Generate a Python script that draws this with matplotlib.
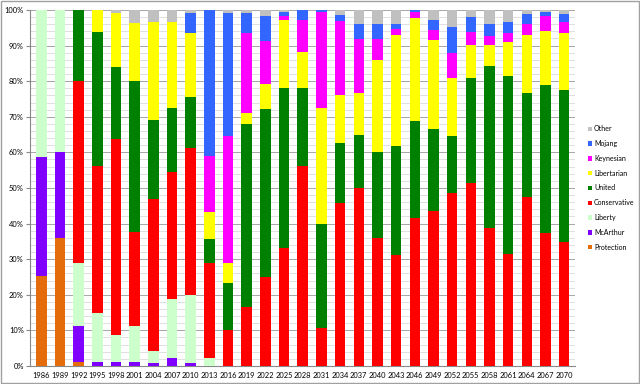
import numpy as np
import matplotlib.pyplot as plt
from matplotlib.patches import Rectangle
from matplotlib.ticker import MultipleLocator, PercentFormatter

plt.rcParams['font.family'] = ['Lato', 'DejaVu Sans']

years = [str(y) for y in range(1986, 2071, 3)]

# shares per party (percent), bottom to top
protection   = [25.3, 36.0, 1.1, 0, 0, 0, 0, 0, 0, 0, 0, 0, 0, 0, 0, 0, 0, 0, 0, 0, 0, 0, 0, 0, 0, 0, 0, 0, 0]
mcarthur     = [33.5, 24.0, 10.1, 1.2, 1.2, 1.2, 0.9, 2.2, 0.9, 0, 0, 0, 0, 0, 0, 0, 0, 0, 0, 0, 0, 0, 0, 0, 0, 0, 0, 0, 0]
liberty      = [41.2, 40.0, 17.6, 13.8, 7.6, 10.0, 3.3, 16.6, 19.1, 2.2, 0, 0, 0, 0, 0, 0, 0, 0, 0, 0, 0, 0, 0, 0, 0, 0, 0, 0, 0]
conservative = [0, 0, 51.3, 41.3, 55.0, 26.4, 42.6, 35.7, 41.3, 26.6, 10.0, 16.6, 25.0, 33.0, 56.1, 10.8,
                45.9, 50.1, 36.0, 31.1, 41.7, 43.6, 48.5, 51.5, 38.7, 31.4, 47.4, 37.4, 34.7]
united       = [0, 0, 19.9, 37.6, 20.1, 42.5, 22.3, 17.9, 14.3, 6.8, 13.2, 51.3, 47.2, 45.2, 22.1, 29.2,
                16.8, 14.9, 24.1, 30.7, 27.2, 22.9, 16.0, 29.4, 45.5, 50.0, 29.4, 41.4, 42.8]
libertarian  = [0, 0, 0, 6.1, 15.2, 16.3, 27.6, 24.3, 17.8, 7.7, 5.7, 3.2, 6.9, 19.0, 10.0, 32.6,
                13.3, 11.8, 25.8, 31.2, 28.9, 25.1, 16.4, 9.3, 6.0, 9.5, 16.1, 15.4, 16.0]
keynesian    = [0, 0, 0, 0, 0, 0, 0, 0, 0, 15.7, 35.7, 22.3, 12.1, 1.1, 9.0, 26.7,
                20.8, 15.0, 5.9, 1.6, 1.5, 2.9, 7.1, 3.5, 2.6, 2.5, 3.3, 4.1, 3.2]
mojang       = [0, 0, 0, 0, 0, 0, 0, 0, 5.7, 41.0, 34.5, 5.7, 7.1, 1.0, 2.8, 0.7,
                1.7, 4.3, 4.3, 1.5, 0.7, 2.8, 7.2, 4.3, 3.3, 3.3, 2.7, 1.2, 2.2]
other        = [0, 0, 0, 0, 0.9, 3.6, 3.3, 3.3, 0.9, 0, 0.9, 0.9, 1.7, 0.7, 0, 0,
                1.5, 3.9, 3.9, 3.9, 0, 2.7, 4.8, 2.0, 3.9, 3.3, 1.1, 0.5, 1.1]

series = [
    ('Protection', protection, '#E46C0A'),
    ('McArthur', mcarthur, '#7F00FF'),
    ('Liberty', liberty, '#CCFFCC'),
    ('Conservative', conservative, '#FF0000'),
    ('United', united, '#008000'),
    ('Libertarian', libertarian, '#FFFF00'),
    ('Keynesian', keynesian, '#FF00FF'),
    ('Mojang', mojang, '#3366FF'),
    ('Other', other, '#C0C0C0'),
]

fig = plt.figure(figsize=(6.4, 3.84), dpi=100)
fig.patches.append(Rectangle((0.002, 0.003), 0.996, 0.994, transform=fig.transFigure,
                             fill=False, edgecolor='#A0A0A0', linewidth=1))
ax = fig.add_axes([0.047, 0.047, 0.852, 0.927])

x = np.arange(len(years))
bottom = np.zeros(len(years))
handles = []
for name, vals, col in series:
    vals = np.array(vals, dtype=float)
    h = ax.bar(x, vals, 0.56, bottom=bottom, color=col, label=name, zorder=3)
    handles.append(h)
    bottom += vals

ax.set_xlim(-0.6, len(years) - 0.4)
ax.set_ylim(0, 100)
ax.yaxis.set_major_locator(MultipleLocator(10))
ax.yaxis.set_minor_locator(MultipleLocator(2))
ax.yaxis.set_major_formatter(PercentFormatter(decimals=0))
ax.grid(axis='y', which='major', color='#A6A6A6', linewidth=0.7, zorder=0)
ax.grid(axis='y', which='minor', color='#DADADA', linewidth=0.6, zorder=0)
ax.set_xticks(x)
ax.set_xticklabels(years, fontsize=5.4)
ax.tick_params(axis='y', which='major', labelsize=5.4, length=3, pad=1.5, color='#888888')
ax.tick_params(axis='y', which='minor', length=0)
ax.tick_params(axis='x', length=0, pad=4)
for s in ['top', 'right']:
    ax.spines[s].set_visible(False)
for s in ['left', 'bottom']:
    ax.spines[s].set_color('#888888')

ax.legend(handles[::-1], [s[0] for s in series][::-1], loc='center left',
          bbox_to_anchor=(1.0, 0.5), frameon=False, fontsize=5,
          handlelength=0.6, handleheight=0.6, handletextpad=0.3, labelspacing=1.12,
          borderaxespad=1.4)

fig.savefig('out.png', dpi=100)
